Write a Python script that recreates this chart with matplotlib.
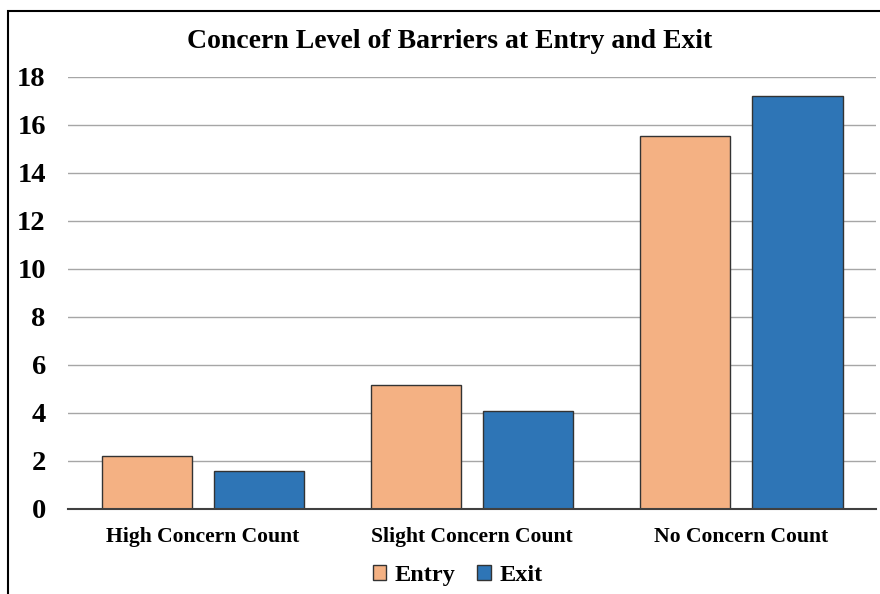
import matplotlib
matplotlib.use("Agg")
import matplotlib.pyplot as plt
from matplotlib.patches import Rectangle
import numpy as np

plt.rcParams['font.family'] = ['Liberation Serif', 'DejaVu Serif']
plt.rcParams['font.weight'] = 'bold'

categories = ["High Concern Count", "Slight Concern Count", "No Concern Count"]
entry = [2.2, 5.15, 15.55]
exit_ = [1.6, 4.1, 17.2]
yticks = [0, 2, 4, 6, 8, 10, 12, 14, 16, 18]

entry_color = "#F4B183"
exit_color = "#2E75B6"

fig = plt.figure(figsize=(8.8, 5.94), dpi=100)
ax = fig.add_axes([0.0773, 0.1431, 0.9182, 0.7273])

x = np.arange(len(categories))
w = 0.335
off = 0.208
ax.bar(x - off, entry, w, color=entry_color, edgecolor="#333333", linewidth=1.0,
       label="Entry", zorder=3)
ax.bar(x + off, exit_, w, color=exit_color, edgecolor="#333333", linewidth=1.0,
       label="Exit", zorder=3)

ax.set_xlim(-0.5, 2.5)
ax.set_ylim(0, 18)
ax.set_yticks(yticks)
ax.set_xticks(x)
ax.set_xticklabels(categories, fontsize=15.6, fontweight='bold')
ax.tick_params(axis='y', labelsize=20.5, length=0, pad=16)
ax.tick_params(axis='x', length=0, pad=13)
for lab in ax.get_yticklabels():
    lab.set_fontweight('bold')

ax.grid(axis='y', color="#A6A6A6", linewidth=1.0, zorder=0)
for s in ['top', 'right', 'left']:
    ax.spines[s].set_visible(False)
ax.spines['bottom'].set_color("#404040")
ax.spines['bottom'].set_linewidth(1.5)
ax.spines['bottom'].set_zorder(4)

fig.text(0.511, 0.93, "Concern Level of Barriers at Entry and Exit", ha='center',
         va='center', fontsize=20, fontweight='bold')

leg = fig.legend(loc='center', bbox_to_anchor=(0.52, 0.031), ncol=2, frameon=False,
                 handlelength=0.55, handleheight=0.55, handletextpad=0.35,
                 columnspacing=0.9, prop={'weight': 'bold', 'size': 17.5})

# outer frame of the chart box
fig.patches.append(Rectangle((8 / 880, -0.1), 1.2, 1 - 11 / 594 + 0.1,
                             transform=fig.transFigure, fill=False,
                             edgecolor="black", linewidth=1.5))

fig.savefig("out.png", dpi=100)
